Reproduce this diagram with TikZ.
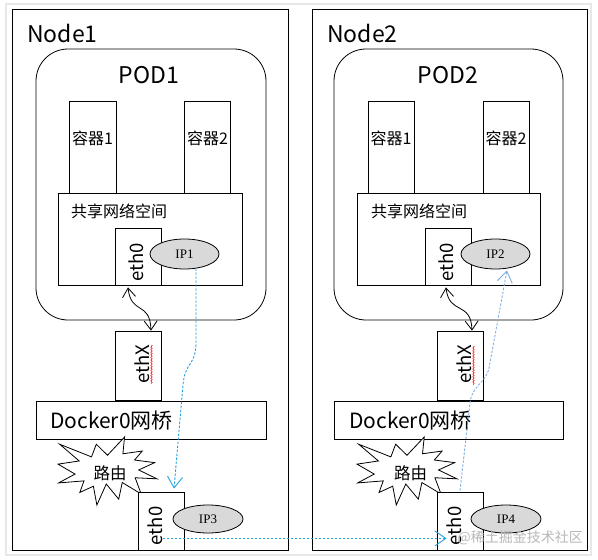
\documentclass[tikz,border=0pt]{standalone}
\usepackage{fontspec}
\setmainfont{Noto Sans CJK SC}
\newfontfamily\ipfont{Liberation Serif}
\usetikzlibrary{arrows.meta,decorations.pathmorphing,shapes.geometric}
\definecolor{ipgray}{RGB}{217,217,217}
\definecolor{cyanline}{RGB}{38,163,222}
\definecolor{paleblue}{RGB}{130,176,226}
\newcommand{\fs}[1]{\fontsize{#1}{#1}\selectfont}
\begin{document}
\begin{tikzpicture}[x=1pt,y=-1pt,
  bx/.style 2 args={draw,line width=0.8pt,fill=white,inner sep=0pt,rectangle,minimum width=#1pt,minimum height=#2pt},
  ipell/.style 2 args={draw,line width=0.8pt,fill=ipgray,ellipse,inner sep=0pt,minimum width=#1pt,minimum height=#2pt,font=\ipfont\fs{13}},
  rot/.style={rotate=90,inner sep=0pt,font=\fs{18.5}},
  dbl/.style={line width=0.8pt,{Straight Barb[length=9pt,width=13pt]}-{Straight Barb[length=9pt,width=13pt]}},
  bluepath/.style={line width=0.9pt,dash pattern=on 2.4pt off 1.6pt,-{Straight Barb[length=11pt,width=15pt]}},
  squig/.style={red,line width=0.5pt,decorate,decoration={snake,amplitude=0.8pt,segment length=2.6pt}},
  star/.style={draw,line width=0.8pt,fill=white},
  lab/.style={inner sep=0pt}
]
\useasboundingbox (0,0) rectangle (598,560);
\draw[gray!18,line width=1.5pt] (6,4) rectangle (591,555);

% ---------- Node 1 ----------
\node[bx={276}{541}] (node1) at (150,279.5) {};
\node[lab,anchor=base west,font=\fs{23}] (tn1) at (27,42.5) {Node1};
\node[bx={230}{271},rounded corners=32pt] (pod1) at (151,184.5) {};
\node[lab,anchor=base,font=\fs{23}] (tp1) at (149,83.5) {POD1};
\node[bx={47}{92}] (c11) at (92.5,147) {};
\node[bx={46}{92}] (c12) at (207,147) {};
\node[lab,font=\fs{16}] (tc11) at (92.5,138.5) {容器1};
\node[lab,font=\fs{16}] (tc12) at (207.5,138.5) {容器2};
\node[bx={184}{92}] (s1) at (150,239) {};
\node[lab,anchor=west,font=\fs{16}] (ts1) at (71,211.5) {共享网络空间};
\node[bx={46}{57}] (pe1) at (138.7,256.5) {};
\node[rot] (tpe1) at (136,262.5) {eth0};
\node[ipell={69}{30}] (ip1) at (184.5,254) {IP1};
\node[bx={46}{69}] (ex1) at (138.7,365.5) {};
\node[rot] (tex1) at (142,364) {ethX};
\draw[squig] (151.5,345) -- (151.5,384);
\node[bx={230}{38}] (d1) at (151,420) {};
\node[lab,anchor=west,font=\fs{21}] (td1) at (50,421) {Docker0网桥};
\begin{scope}[shift={(58,437)},xscale=99/216,yscale=68/216]
\draw[star] (108,58) -- (145.22,0) -- (141.55,53.25) -- (183.8,44.57) -- (167.02,73.15) -- (210.97,81.37) -- (176.07,104.75) -- (216,132.9) -- (168.37,129.42) -- (181.45,180.95) -- (140.2,144.57) -- (132.47,197.37) -- (105.32,149.35) -- (84.85,216) -- (77.15,156.27) -- (47.62,176.17) -- (56.67,139.37) -- (1.35,145.87) -- (37.22,117.75) -- (0,86.15) -- (46.27,76.17) -- (3.7,22.95) -- (73.12,63.2) -- (83.52,22.95) -- cycle;
\end{scope}
\node[lab,font=\fs{16.5}] (tr1) at (110,473) {路由};
\node[bx={46}{58}] (be1) at (161,521) {};
\node[rot] (tbe1) at (155.5,526) {eth0};
\node[ipell={70}{28}] (ip3) at (208,519) {IP3};

% ---------- Node 2 ----------
\node[bx={275}{541}] (node2) at (449.5,279.5) {};
\node[lab,anchor=base west,font=\fs{23}] (tn2) at (327,42.5) {Node2};
\node[bx={229}{271},rounded corners=32pt] (pod2) at (448.5,184.5) {};
\node[lab,anchor=base,font=\fs{23}] (tp2) at (448,83.5) {POD2};
\node[bx={46}{92}] (c21) at (391,147) {};
\node[bx={46}{92}] (c22) at (506,147) {};
\node[lab,font=\fs{16}] (tc21) at (391,138.5) {容器1};
\node[lab,font=\fs{16}] (tc22) at (506,138.5) {容器2};
\node[bx={183}{92}] (s2) at (448.5,239) {};
\node[lab,anchor=west,font=\fs{16}] (ts2) at (371,211.5) {共享网络空间};
\node[bx={46}{57}] (pe2) at (448.7,256.5) {};
\node[rot] (tpe2) at (446,262.5) {eth0};
\node[ipell={69}{30}] (ip2) at (495.5,254) {IP2};
\node[bx={46}{69}] (ex2) at (460,365.5) {};
\node[rot] (tex2) at (464,364.5) {ethX};
\draw[squig] (473.5,346) -- (473.5,385);
\node[bx={229}{38}] (d2) at (448.5,420) {};
\node[lab,anchor=west,font=\fs{21}] (td2) at (349,421) {Docker0网桥};
\begin{scope}[shift={(357,437)},xscale=100/216,yscale=68/216]
\draw[star] (108,58) -- (145.22,0) -- (141.55,53.25) -- (183.8,44.57) -- (167.02,73.15) -- (210.97,81.37) -- (176.07,104.75) -- (216,132.9) -- (168.37,129.42) -- (181.45,180.95) -- (140.2,144.57) -- (132.47,197.37) -- (105.32,149.35) -- (84.85,216) -- (77.15,156.27) -- (47.62,176.17) -- (56.67,139.37) -- (1.35,145.87) -- (37.22,117.75) -- (0,86.15) -- (46.27,76.17) -- (3.7,22.95) -- (73.12,63.2) -- (83.52,22.95) -- cycle;
\end{scope}
\node[lab,font=\fs{16.5}] (tr2) at (410.5,473) {路由};
\node[bx={46}{58}] (be2) at (460,521) {};
\node[rot] (tbe2) at (454.5,526) {eth0};
\node[ipell={70}{28}] (ip4) at (506,519) {IP4};

% ---------- connectors ----------
\draw[dbl] ([xshift=-10.7pt,yshift=-2pt]pe1.south) .. controls +(3,28) and +(-1,-30) .. ([xshift=12.3pt]ex1.north);
\draw[dbl] ([xshift=-2.7pt,yshift=-2pt]pe2.south) .. controls +(3,28) and +(-1,-30) .. ([xshift=12pt]ex2.north);

\coordinate (a1) at (196,345);
\coordinate (a2) at (183,385);
\draw[cyanline,bluepath] ([xshift=11.5pt,yshift=1pt]ip1.south) -- (a1) .. controls (195,366) and (185,362) .. (a2) -- ([xshift=13pt,yshift=3pt]be1.north);

\coordinate (h1) at ([xshift=2pt,yshift=12pt]be1.south);
\draw[cyanline,bluepath] (h1) -- ([xshift=10pt]be2.west |- h1);

\coordinate (b1) at (470,403);
\coordinate (b2) at (489,368);
\draw[paleblue,bluepath] ([yshift=1pt]be2.north) -- (b1) .. controls (472,385) and (486,383) .. (b2) -- ([xshift=11.5pt,yshift=-1pt]ip2.south);

\node[lab,anchor=east,text=gray!55,font=\fs{14}] (wm) at (583,538) {@稀土掘金技术社区};
\end{tikzpicture}
\end{document}
